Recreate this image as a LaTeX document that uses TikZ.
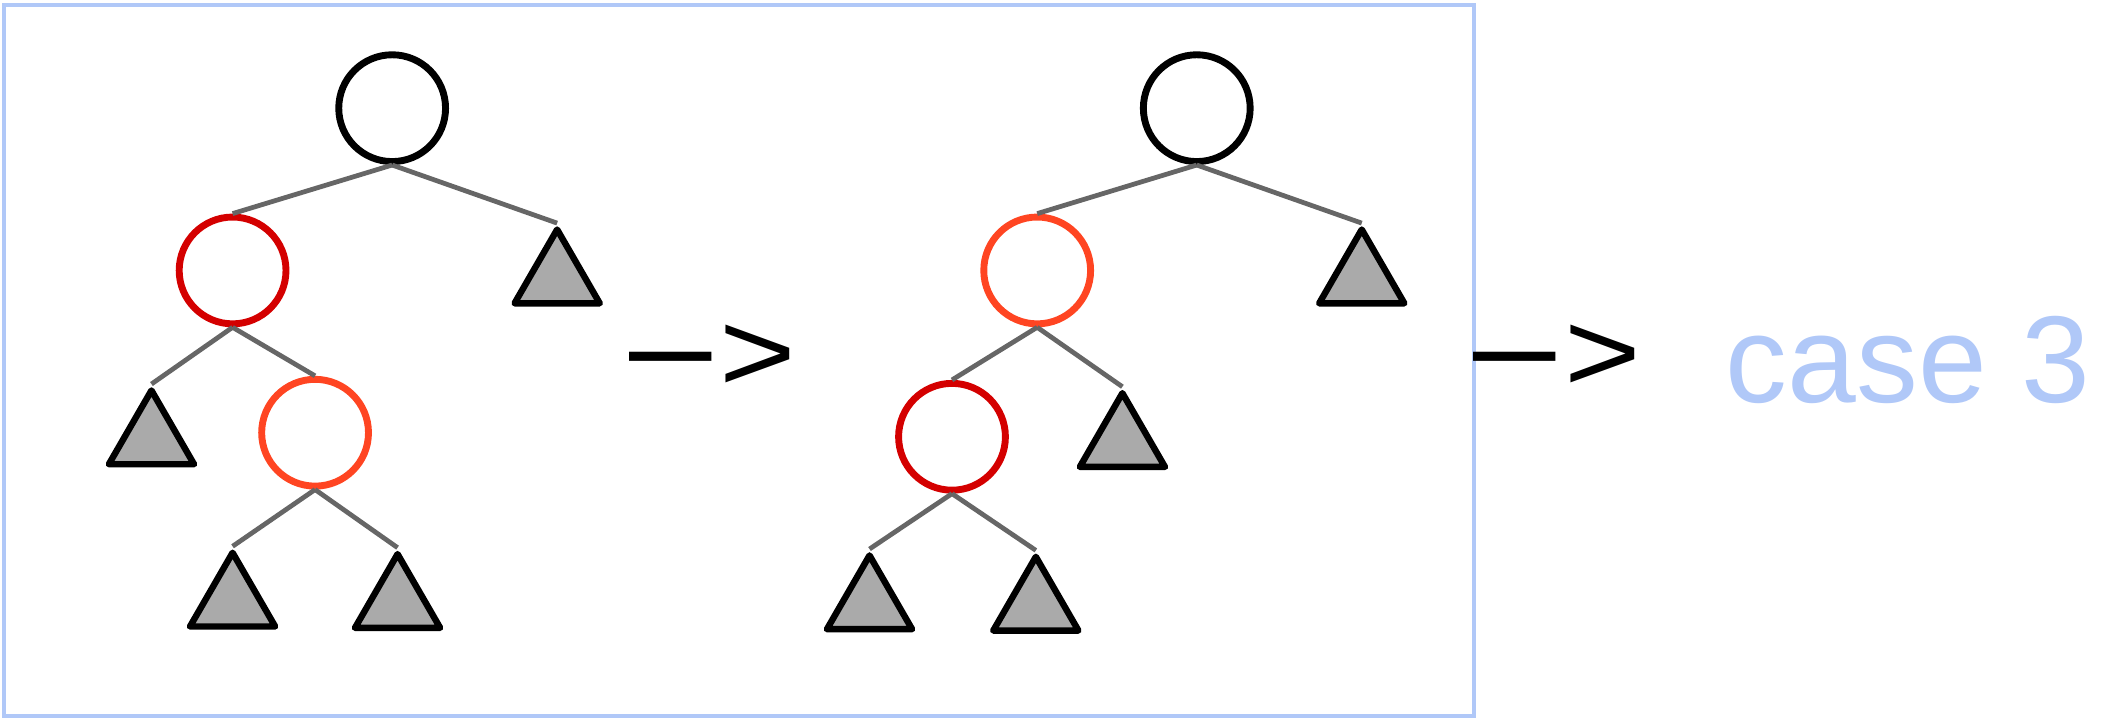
\documentclass[tikz,border=0pt]{standalone}
\usepackage{fontspec}
\setmainfont{Liberation Sans}
\usepackage{tikz}
\usetikzlibrary{shapes.geometric}

\definecolor{boxblue}{HTML}{B0C8F8}
\definecolor{darkred}{HTML}{D40000}
\definecolor{orangered}{HTML}{FF4522}
\definecolor{edgegray}{HTML}{666666}
\definecolor{subgray}{HTML}{AAAAAA}

\begin{document}
\begin{tikzpicture}[
  x=0.02cm, y=-0.02cm,
  rbnode/.style={circle, draw, line width=2.9pt, minimum size=1.58cm, inner sep=0pt},
  subtree/.style={regular polygon, regular polygon sides=3, draw, line width=2.7pt,
    line join=round, fill=subgray, minimum size=1.455cm, inner sep=0pt, anchor=corner 1},
  link/.style={draw=edgegray, line width=2pt},
  arrowtext/.style={font=\fontsize{48}{56}\selectfont, inner sep=0pt}
]
  \useasboundingbox (0,0) rectangle (1567,532.4);
  \draw[boxblue, line width=1.5pt] (3,3.5) rectangle (1090,529.5);

  % before the rotation
  \node[rbnode]                 (r1) at (290,80)  {};
  \node[rbnode, draw=darkred]   (a1) at (172,200) {};
  \node[rbnode, draw=orangered] (b1) at (233,320) {};
  \node[subtree] (t1) at (412,165) {};
  \node[subtree] (t2) at (112,284) {};
  \node[subtree] (t3) at (172,404) {};
  \node[subtree] (t4) at (294,405) {};

  \draw[link] (r1.south) -- (a1.north);
  \draw[link] (r1.south) -- (t1.corner 1);
  \draw[link] (a1.south) -- (t2.corner 1);
  \draw[link] (a1.south) -- (b1.north);
  \draw[link] (b1.south) -- (t3.corner 1);
  \draw[link] (b1.south) -- (t4.corner 1);

  % after the rotation
  \node[rbnode]                 (r2) at (885,80)  {};
  \node[rbnode, draw=orangered] (a2) at (767,200) {};
  \node[rbnode, draw=darkred]   (b2) at (704,323) {};
  \node[subtree] (t5) at (1007,165) {};
  \node[subtree] (t6) at (830,286)  {};
  \node[subtree] (t7) at (643,406)  {};
  \node[subtree] (t8) at (766,407)  {};

  \draw[link] (r2.south) -- (a2.north);
  \draw[link] (r2.south) -- (t5.corner 1);
  \draw[link] (a2.south) -- (b2.north);
  \draw[link] (a2.south) -- (t6.corner 1);
  \draw[link] (b2.south) -- (t7.corner 1);
  \draw[link] (b2.south) -- (t8.corner 1);

  \node[arrowtext] (arr1) at (527,265) {\scalebox{1.3}[1.2]{–}\kern0.07em\scalebox{1.15}[1]{>}};
  \node[arrowtext] (arr2) at (1151.5,265) {\scalebox{1.3}[1.2]{–}\kern0.07em\scalebox{1.15}[1]{>}};

  \node[font=\fontsize{52}{62}\selectfont, text=boxblue, inner sep=0pt, anchor=base west]
    (case) at (1276,298) {case 3};
\end{tikzpicture}
\end{document}
